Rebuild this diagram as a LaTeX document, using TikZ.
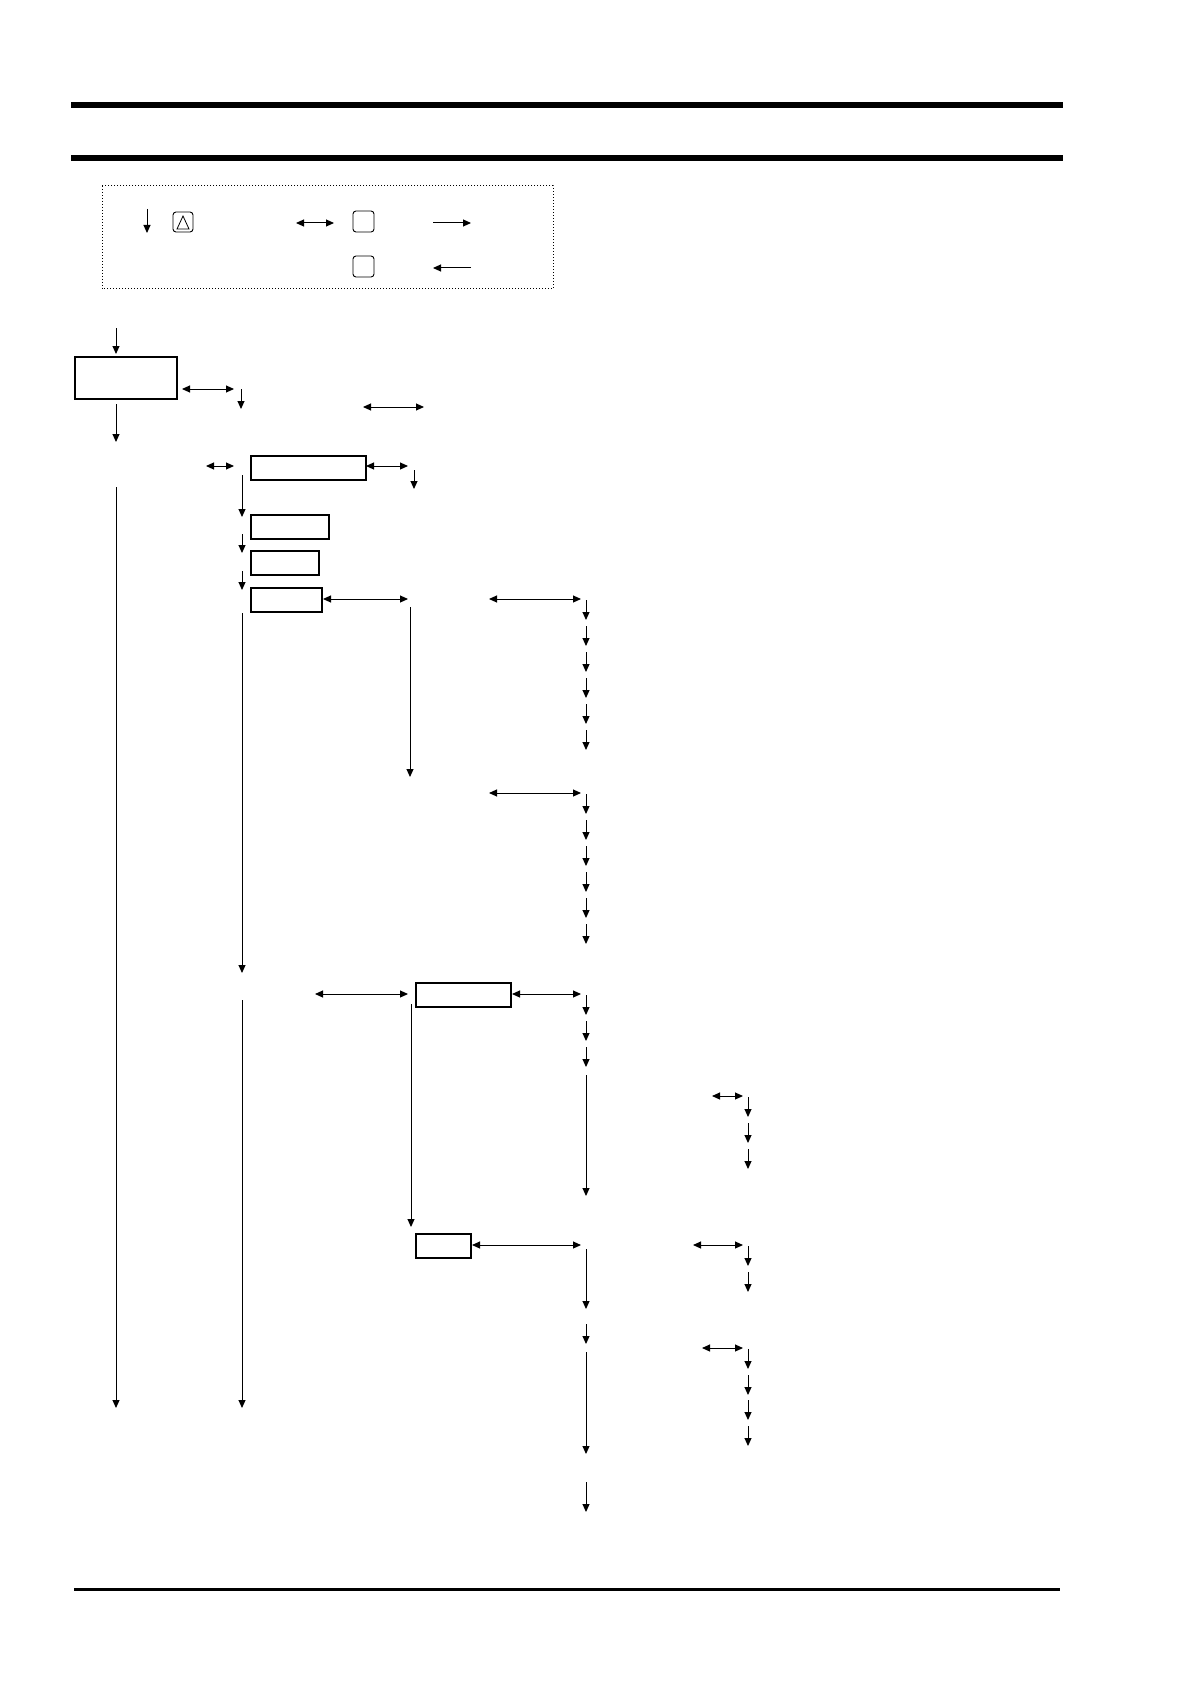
\documentclass[tikz,border=0pt]{standalone}
\usetikzlibrary{arrows.meta}
\begin{document}
\begin{tikzpicture}[x=1pt,y=-1pt,
  ar/.style={line width=1pt,-{Triangle[length=8pt,width=7pt]}},
  dar/.style={line width=1pt,{Triangle[length=8pt,width=7pt]}-{Triangle[length=8pt,width=7pt]}},
  ln/.style={line width=1pt},
  bx/.style={draw,line width=2.2pt},
  key/.style={draw,line width=0.9pt,rounded corners=3pt}]
\useasboundingbox (0,0) rectangle (1191,1685);
% header / footer bars
\fill (71,102) rectangle (1063,108);
\fill (71,155) rectangle (1063,161);
\fill (74,1588) rectangle (1060,1591);
% legend
\draw[dotted,line width=1pt] (102,186) rectangle (553,289);
\draw[ar] (147,209) -- (147,233);
\draw[key] (173,212) rectangle (193,232);
\draw[line width=0.8pt] (177,229) -- (183,216) -- (189,229) -- cycle;
\draw[dar] (296,223) -- (334,223);
\draw[key] (353,211) rectangle (374,232);
\draw[ar] (433,223) -- (471,223);
\draw[key] (353,256) rectangle (374,277);
\draw[ar] (471,268) -- (433,268);
% boxes
\draw[bx] (75,357) rectangle (177,399);
\draw[bx] (251,456) rectangle (366,480);
\draw[bx] (251,515) rectangle (329,539);
\draw[bx] (251,551) rectangle (319,575);
\draw[bx] (251,588) rectangle (322,612);
\draw[bx] (416,983) rectangle (511,1007);
\draw[bx] (416,1234) rectangle (471,1258);
% column 1
\draw[ar] (116,328) -- (116,354);
\draw[ar] (116,404) -- (116,442);
\draw[ar] (116,487) -- (116,1408);
\draw[dar] (182,389) -- (234,389);
\draw[ar] (241,389) -- (241,409);
\draw[dar] (363,407) -- (424,407);
% column 2
\draw[dar] (206,466) -- (234,466);
\draw[dar] (366,466) -- (408,466);
\draw[ar] (414,470) -- (414,489);
\draw[ar] (242,475) -- (242,517);
\draw[ar] (242,534) -- (242,553);
\draw[ar] (242,571) -- (242,590);
\draw[ar] (242,613) -- (242,973);
\draw[ar] (242,1000) -- (242,1408);
% branch at box5
\draw[dar] (323,599) -- (408,599);
\draw[ar] (410,607) -- (410,777);
\draw[dar] (489,599) -- (581,599);
\foreach \y in {600,626,652,678,704,730} \draw[ar] (586,\y) -- (586,\y+20);
\draw[dar] (489,793) -- (581,793);
\foreach \y in {794,820,846,872,898,924} \draw[ar] (586,\y) -- (586,\y+20);
% branch at box6
\draw[dar] (315,994) -- (408,994);
\draw[dar] (512,994) -- (581,994);
\foreach \y in {995,1021,1047} \draw[ar] (586,\y) -- (586,\y+20);
\draw[ar] (586,1075) -- (586,1196);
\draw[dar] (712,1096) -- (743,1096);
\foreach \y in {1097,1123,1149} \draw[ar] (748,\y) -- (748,\y+20);
\draw[ar] (411,1004) -- (411,1227);
% branch at box7
\draw[dar] (472,1245) -- (581,1245);
\draw[ar] (586,1249) -- (586,1309);
\draw[ar] (586,1324) -- (586,1344);
\draw[ar] (586,1352) -- (586,1454);
\draw[ar] (586,1482) -- (586,1512);
\draw[dar] (693,1245) -- (743,1245);
\foreach \y in {1246,1272} \draw[ar] (748,\y) -- (748,\y+20);
\draw[dar] (702,1348) -- (743,1348);
\foreach \y in {1349,1375,1400,1426} \draw[ar] (748,\y) -- (748,\y+20);
\end{tikzpicture}
\end{document}
